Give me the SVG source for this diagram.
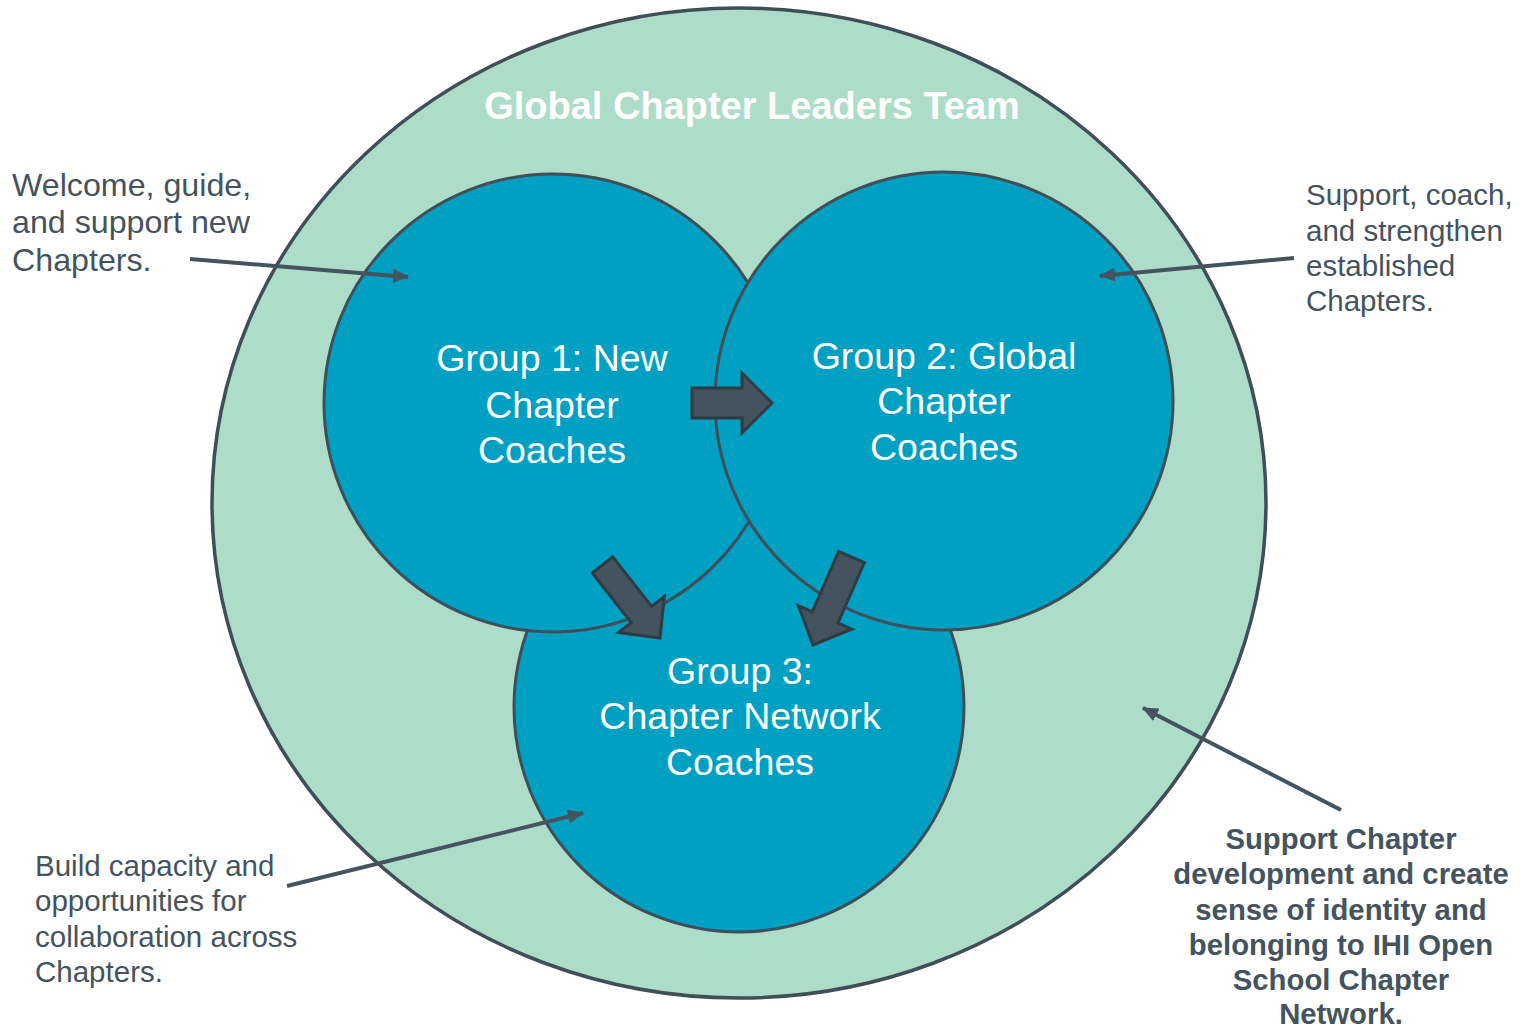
<svg xmlns="http://www.w3.org/2000/svg" width="1525" height="1027" viewBox="0 0 1525 1027">
<style>
.outer{fill:#ADDCC9;stroke:#3F4E57;stroke-width:3.5}
.grp{fill:#00A0C3;stroke:#3F4E57;stroke-width:3}
.lbl{font-family:"Liberation Sans",Arial,sans-serif;font-size:37.5px;fill:#FFFFFF;text-anchor:middle}
.title{font-family:"Liberation Sans",Arial,sans-serif;font-size:38px;font-weight:bold;fill:#FFFFFF;text-anchor:middle}
.note{font-family:"Liberation Sans",Arial,sans-serif;fill:#44535E}
.bold{font-family:"Liberation Sans",Arial,sans-serif;font-size:29.3px;font-weight:bold;fill:#44535E;text-anchor:middle}
.block{fill:#44535E;stroke:#2E3B43;stroke-width:3;stroke-linejoin:miter}
.line{stroke:#44535E;stroke-width:4;fill:none}
</style>
<defs>
<marker id="ah" markerUnits="userSpaceOnUse" markerWidth="16" markerHeight="14" refX="15" refY="7" orient="auto">
<path d="M0,0 L16,7 L0,14 Z" fill="#44535E"/>
</marker>
</defs>
<rect width="1525" height="1027" fill="#FFFFFF"/>
<g id="global-team">
<ellipse class="outer" cx="739" cy="503" rx="527" ry="495"/>
<text class="title" x="752" y="119">Global Chapter Leaders Team</text>
</g>
<g id="group3">
<circle class="grp" cx="739" cy="707" r="225"/>
<text class="lbl" x="740" y="684">Group 3:</text>
<text class="lbl" x="740" y="729">Chapter Network</text>
<text class="lbl" x="740" y="775">Coaches</text>
</g>
<g id="group1">
<circle class="grp" cx="553" cy="403" r="229"/>
<text class="lbl" x="552" y="371">Group 1: New</text>
<text class="lbl" x="552" y="418">Chapter</text>
<text class="lbl" x="552" y="463">Coaches</text>
</g>
<g id="group2">
<circle class="grp" cx="944" cy="401" r="229"/>
<text class="lbl" x="944" y="369">Group 2: Global</text>
<text class="lbl" x="944" y="414">Chapter</text>
<text class="lbl" x="944" y="460">Coaches</text>
</g>
<g id="connectors">
<path class="block" transform="translate(692,403)" d="M0,-15 L50,-15 L50,-30 L80,0 L50,30 L50,15 L0,15 Z"/>
<path class="block" transform="translate(602.5,565) rotate(51.8)" d="M0,-13 L63,-13 L63,-29 L93,0 L63,29 L63,13 L0,13 Z"/>
<path class="block" transform="translate(851.5,557) rotate(113.6)" d="M0,-14 L66,-14 L66,-29 L96,0 L66,29 L66,14 L0,14 Z"/>
<line class="line" x1="190" y1="259" x2="408" y2="277" marker-end="url(#ah)"/>
<line class="line" x1="1294" y1="258" x2="1100" y2="276" marker-end="url(#ah)"/>
<line class="line" x1="1341" y1="810" x2="1143" y2="708" marker-end="url(#ah)"/>
<line class="line" x1="287" y1="886" x2="583" y2="813" marker-end="url(#ah)"/>
</g>
<g id="note-group1">
<text class="note" font-size="32.2" x="12" y="196">Welcome, guide,</text>
<text class="note" font-size="32.2" x="12" y="233">and support new</text>
<text class="note" font-size="32.2" x="12" y="271">Chapters.</text>
</g>
<g id="note-group2">
<text class="note" font-size="29.5" x="1306" y="205">Support, coach,</text>
<text class="note" font-size="29.5" x="1306" y="241">and strengthen</text>
<text class="note" font-size="29.5" x="1306" y="276">established</text>
<text class="note" font-size="29.5" x="1306" y="311">Chapters.</text>
</g>
<g id="note-group3">
<text class="note" font-size="29.5" x="35" y="876">Build capacity and</text>
<text class="note" font-size="29.5" x="35" y="911">opportunities for</text>
<text class="note" font-size="29.5" x="35" y="947">collaboration across</text>
<text class="note" font-size="29.5" x="35" y="982">Chapters.</text>
</g>
<g id="note-global">
<text class="bold" x="1341" y="849">Support Chapter</text>
<text class="bold" x="1341" y="884">development and create</text>
<text class="bold" x="1341" y="920">sense of identity and</text>
<text class="bold" x="1341" y="955">belonging to IHI Open</text>
<text class="bold" x="1341" y="990">School Chapter</text>
<text class="bold" x="1341" y="1024">Network.</text>
</g>
</svg>
